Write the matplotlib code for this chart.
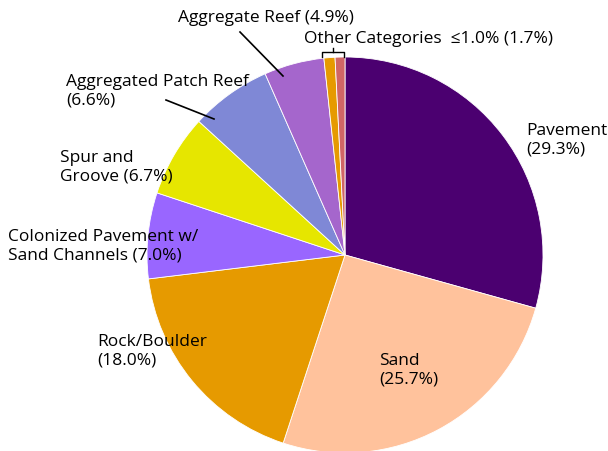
import matplotlib.pyplot as plt

plt.rcParams['font.family'] = ['Open Sans', 'DejaVu Sans']

# slice values (percent), clockwise from 12 o'clock
names = ["Pavement", "Sand", "Rock/Boulder", "Colonized Pavement w/ Sand Channels",
         "Spur and Groove", "Aggregated Patch Reef", "Aggregate Reef",
         "Other A", "Other B"]
values = [29.3, 25.7, 18.0, 7.0, 6.7, 6.6, 4.9, 0.9, 0.8]
colors = ["#4b0070", "#ffc29c", "#e69a00", "#9966ff", "#e6e600",
          "#7f88d6", "#a566cc", "#e69a00", "#d06666"]

W, H = 608, 451
fig = plt.figure(figsize=(W / 100, H / 100), dpi=100)
ax = fig.add_axes([0, 0, 1, 1])

cx, cy, r = 345, H - 255, 198
ax.pie(values, colors=colors, startangle=90, counterclock=False,
       center=(cx, cy), radius=r, frame=True,
       wedgeprops=dict(edgecolor='white', linewidth=0.6))
ax.set_xlim(0, W)
ax.set_ylim(0, H)
ax.set_aspect('equal')
ax.axis('off')

FS = 12.5


def label(x, y, s, ha='left'):
    ax.text(x, H - y, s, fontsize=FS, va='top', ha=ha, linespacing=1.2)


label(526, 123, "Pavement\n(29.3%)")
label(379, 353, "Sand\n(25.7%)")
label(97, 334, "Rock/Boulder\n(18.0%)")
label(8, 229, "Colonized Pavement w/\nSand Channels (7.0%)")
label(60, 150, "Spur and\nGroove (6.7%)")
label(66, 74, "Aggregated Patch Reef\n(6.6%)")
label(178, 10, "Aggregate Reef (4.9%)")
label(304, 31, "Other Categories  ≤1.0% (1.7%)")

# leader lines
ax.plot([240, 283], [H - 32, H - 76], color='black', lw=1.2)
ax.plot([166, 214], [H - 100, H - 119], color='black', lw=1.2)
# bracket over the small slices
ax.plot([322, 322, 344, 344], [H - 57, H - 52, H - 52, H - 57], color='black', lw=1)
ax.plot([333, 333], [H - 52, H - 48], color='black', lw=1)

fig.savefig("out.png", dpi=100)
